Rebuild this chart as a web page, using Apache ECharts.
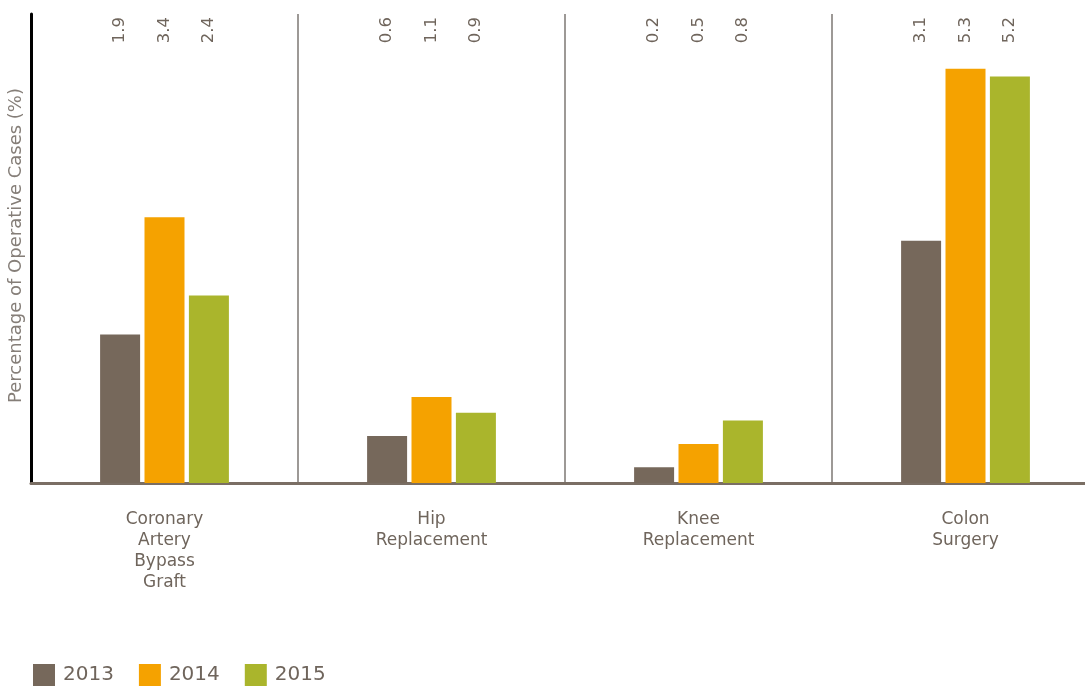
<!DOCTYPE html>
<html>
<head>
<meta charset="utf-8">
<script src="https://cdn.jsdelivr.net/npm/echarts@6/dist/echarts.min.js"></script>
<style>html,body{margin:0;padding:0;background:#fff}#c{width:1085px;height:687px}</style>
</head>
<body>
<div id="c"></div>
<script>
const categories = ['Coronary\nArtery\nBypass\nGraft', 'Hip\nReplacement', 'Knee\nReplacement', 'Colon\nSurgery'];
const years = ['2013', '2014', '2015'];
const values2013 = [1.9, 0.6, 0.2, 3.1];
const values2014 = [3.4, 1.1, 0.5, 5.3];
const values2015 = [2.4, 0.9, 0.8, 5.2];
const yMax = 6;

const colors = ['#76685b', '#f5a200', '#aab52c'];
const textColor = '#6f655c';
const font = 'DejaVu Sans';
const seriesData = [values2013, values2014, values2015];

const chart = echarts.init(document.getElementById('c'), null, {renderer: 'canvas'});
const series = [];
seriesData.forEach((d, i) => {
  series.push({
    name: years[i], type: 'bar', xAxisIndex: 0, data: d,
    barWidth: 40, barGap: '11%',
    itemStyle: {color: colors[i]}
  });
});
seriesData.forEach((d, i) => {
  series.push({
    name: 'lbl' + years[i], type: 'bar', xAxisIndex: 1,
    data: d.map(() => yMax),
    barWidth: 40, barGap: '11%', silent: true,
    itemStyle: {color: 'rgba(0,0,0,0)'},
    label: {
      show: true, position: 'insideTop', distance: 0, rotate: 90,
      align: 'right', verticalAlign: 'middle', offset: [-3, 0],
      fontFamily: font, fontSize: 16.5, color: textColor,
      formatter: p => d[p.dataIndex].toFixed(1)
    }
  });
});

chart.setOption({
  animation: false,
  color: colors,
  grid: {left: 31, top: 14, width: 1068, height: 469, containLabel: false, outerBoundsMode: 'none'},
  legend: {
    data: years, left: 33, bottom: 1, padding: 0, itemWidth: 22, itemHeight: 22, itemGap: 25,
    icon: 'rect', textStyle: {fontFamily: font, fontSize: 20, color: textColor, padding: [0, 0, 0, 3]}
  },
  xAxis: [{
    type: 'category', data: categories,
    axisLine: {show: true, lineStyle: {color: '#7a6e64', width: 3}},
    axisTick: {show: false},
    splitLine: {show: true, lineStyle: {color: '#7d7773', width: 1.5}},
    axisLabel: {fontFamily: font, fontSize: 17, color: textColor, lineHeight: 21, margin: 26, interval: 0}
  }, {
    type: 'category', data: categories, position: 'top', show: false
  }],
  yAxis: {
    type: 'value', min: 0, max: yMax,
    name: 'Percentage of Operative Cases (%)', nameLocation: 'middle', nameGap: 6,
    nameTextStyle: {fontFamily: font, fontSize: 18, color: '#857e78', padding: [0, 0, 0, 6]},
    axisLine: {show: true, lineStyle: {color: '#000', width: 3}},
    axisTick: {show: false}, axisLabel: {show: false}, splitLine: {show: false}
  },
  series: series
});
</script>
</body>
</html>
